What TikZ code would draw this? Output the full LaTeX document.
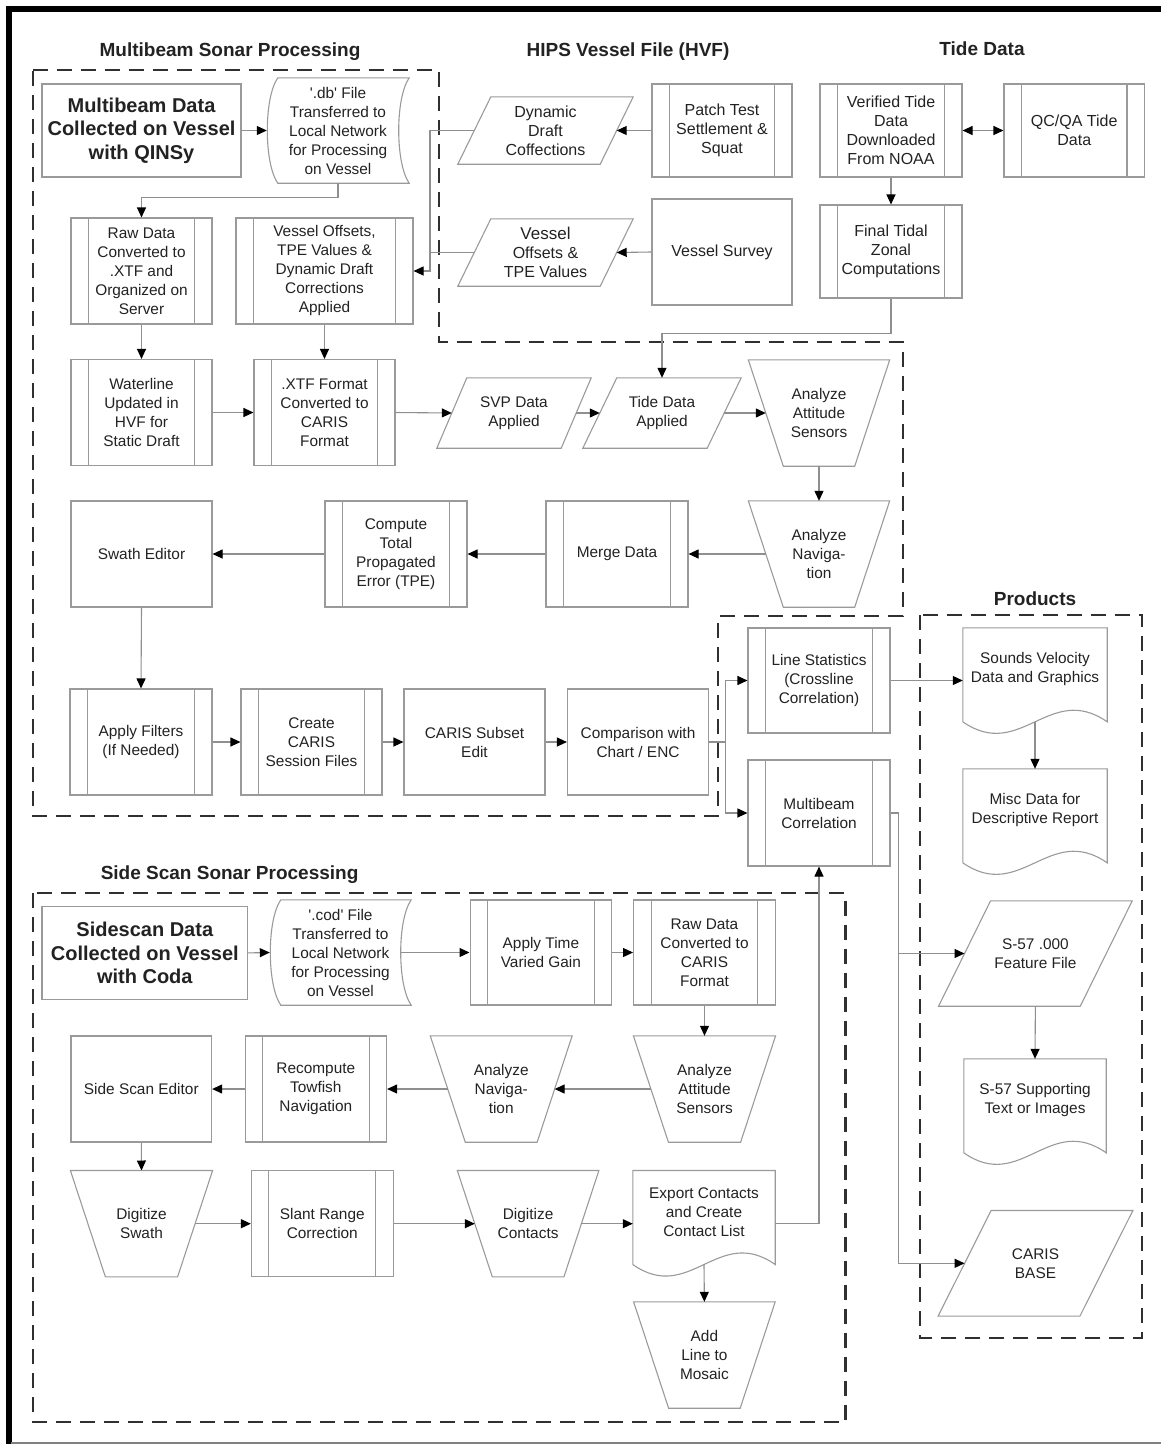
\documentclass[tikz,border=0pt]{standalone}
\usepackage{fontspec}
\setmainfont{Liberation Sans}
\usetikzlibrary{calc,arrows.meta}
\definecolor{boxgray}{HTML}{9A9A9A}
\definecolor{linegray}{HTML}{8F8F8F}
\definecolor{txt}{HTML}{222222}
\definecolor{dashcol}{HTML}{303030}
\newcommand\fsn{\fontsize{15.4}{19}\selectfont}
\newcommand\fsh{\fontsize{16}{19}\selectfont}
\newcommand\fsb{\fontsize{20}{23.5}\selectfont\bfseries}
\newcommand\fst{\fontsize{19}{22}\selectfont\bfseries}
\newcommand\mkpara[2]{%
  \draw[outline] ($(#1.north west)+(#2,0)$) -- (#1.north east) -- ($(#1.south east)-(#2,0)$) -- (#1.south west) -- cycle;
  \coordinate (#1-l) at ($(#1.west)+(#2/2,0)$);
  \coordinate (#1-r) at ($(#1.east)-(#2/2,0)$);}
\newcommand\mktrap[2]{%
  \draw[outline] (#1.north west) -- (#1.north east) -- ($(#1.south east)-(#2,0)$) -- ($(#1.south west)+(#2,0)$) -- cycle;
  \coordinate (#1-l) at ($(#1.west)+(#2/2,0)$);
  \coordinate (#1-r) at ($(#1.east)-(#2/2,0)$);}
\newcommand\mkstored[1]{%
  \draw[outline] ($(#1.north west)+(11,0)$) -- (#1.north east)
    .. controls ($(#1.north east)+(-14,20)$) and ($(#1.south east)+(-14,-20)$) .. (#1.south east)
    -- ($(#1.south west)+(11,0)$)
    .. controls ($(#1.south west)+(-3,-20)$) and ($(#1.north west)+(-3,20)$) .. ($(#1.north west)+(11,0)$) -- cycle;
  \coordinate (#1-r) at ($(#1.east)+(-10.5,0)$);}
\newcommand\mkdoc[1]{%
  \draw[outline] (#1.north west) -- (#1.north east) -- ($(#1.north east)+(0,94)$)
    .. controls ($(#1.north west)!0.6!(#1.north east)+(0,54)$) and ($(#1.north west)!0.4!(#1.north east)+(0,134)$) .. ($(#1.north west)+(0,94)$) -- cycle;}
\tikzset{
  base/.style={inner sep=0pt, align=center, font=\fsn, text=txt},
  sz/.style 2 args={minimum width=#1pt, minimum height=#2pt},
  plain/.style={base, draw=boxgray, line width=1.1pt},
  proc/.style={plain, path picture={\draw[boxgray, line width=1.1pt]
      ([xshift=17.5pt]path picture bounding box.north west) -- ([xshift=17.5pt]path picture bounding box.south west)
      ([xshift=-17.5pt]path picture bounding box.north east) -- ([xshift=-17.5pt]path picture bounding box.south east);}},
  free/.style={base},
  outline/.style={draw=boxgray, line width=1.1pt},
  conn/.style={draw=linegray, line width=1.1pt, -{Triangle[length=10pt,width=9pt,color=black]}},
  plainline/.style={draw=linegray, line width=1.1pt},
  region/.style={draw=dashcol, line width=2.6pt, dash pattern=on 15pt off 9pt},
  title/.style={font=\fst, text=txt, inner sep=0pt},
}
\begin{document}
\begin{tikzpicture}[x=1pt,y=-1pt]
\useasboundingbox (0,0) rectangle (1161,1444);
% frame
\draw[line width=6pt, black] (8.5,1444) -- (8.5,8.5) -- (1161,8.5);
\draw[line width=1.5pt, gray] (11,1442.8) -- (1161,1442.8);
% regions
\draw[region] (33,70) -- (439,70) -- (439,342) -- (903,342) -- (903,616) -- (718,616) -- (718,816) -- (33,816) -- cycle;
\draw[region] (920,615) rectangle (1142,1338);
\draw[region] (33,893) rectangle (845.5,1422);
% titles
\node[title] (t1) at (230,52) {Multibeam Sonar Processing};
\node[title] (t2) at (628,52) {HIPS Vessel File (HVF)};
\node[title] (t3) at (982,49) {Tide Data};
\node[title] (t4) at (1035,599) {Products};
\node[title] (t5) at (229.6,875) {Side Scan Sonar Processing};
% multibeam
\node[plain, sz={199}{93}, font=\fsb] (mbdata) at (141.5,130.5) {Multibeam Data\\Collected on Vessel\\with QINSy};
\node[free, sz={142}{105}] (dbfile) at (338,130.5) {\textquotesingle.db\textquotesingle{} File\\Transferred to\\Local Network\\for Processing\\on Vessel};
\mkstored{dbfile}
\node[proc, sz={141}{106}] (rawxtf) at (141.5,271) {Raw Data\\Converted to\\.XTF and\\Organized on\\Server};
\node[proc, sz={177}{106}] (voff) at (324.5,271) {Vessel Offsets,\\TPE Values \&\\Dynamic Draft\\Corrections\\Applied};
\node[proc, sz={141}{106}] (waterline) at (141.5,412.5) {Waterline\\Updated in\\HVF for\\Static Draft};
\node[proc, sz={141}{106}] (xtf) at (324.5,412.5) {.XTF Format\\Converted to\\CARIS\\Format};
\node[free, sz={154}{70}] (svp) at (514,413) {SVP Data\\Applied};
\mkpara{svp}{30}
\node[free, sz={158}{70}] (tideapp) at (662,413) {Tide Data\\Applied};
\mkpara{tideapp}{34}
\node[free, sz={141}{106}] (attmb) at (819,413) {Analyze\\Attitude\\Sensors};
\mktrap{attmb}{35}
\node[free, sz={141}{106}] (navmb) at (819,554) {Analyze\\Naviga-\\tion};
\mktrap{navmb}{35}
\node[proc, sz={142}{106}] (merge) at (617,554) {Merge Data};
\node[proc, sz={142}{106}] (tpe) at (396,554) {Compute\\Total\\Propagated\\Error (TPE)};
\node[plain, sz={141}{106}] (swath) at (141.5,554) {Swath Editor};
\node[proc, sz={142}{106}] (filters) at (141,742) {Apply Filters\\(If Needed)};
\node[proc, sz={141}{106}] (session) at (311.5,742) {Create\\CARIS\\Session Files};
\node[plain, sz={141}{106}] (subset) at (474.5,742) {CARIS Subset\\Edit};
\node[plain, sz={141}{106}] (compare) at (638,742) {Comparison with\\Chart / ENC};
\node[proc, sz={142}{105}] (linestats) at (819,680.5) {Line Statistics\\(Crossline\\Correlation)};
\node[proc, sz={142}{106}] (mbcorr) at (819,813) {Multibeam\\Correlation};
% HVF
\node[free, sz={175}{67}, font=\fsh] (ddraft) at (545.5,130.5) {Dynamic\\Draft\\Coffections};
\mkpara{ddraft}{33}
\node[proc, sz={140}{93}, font=\fsh] (patch) at (722,130.5) {Patch Test\\Settlement \&\\Squat};
\node[free, sz={175}{67}, font=\fsh] (tpeval) at (545.5,252.5) {{\fontsize{17}{19}\selectfont Vessel}\\Offsets \&\\TPE Values};
\mkpara{tpeval}{33}
\node[plain, sz={140}{106}, font=\fsh] (vsurvey) at (722,252) {Vessel Survey};
% Tide
\node[proc, sz={142}{93}, font=\fsh] (verified) at (891,130.5) {Verified Tide\\Data\\Downloaded\\From NOAA};
\node[proc, sz={140.5}{93}, font=\fsh] (qcqa) at (1074.25,130.5) {QC/QA Tide\\Data};
\node[proc, sz={142}{93}, font=\fsh] (finaltide) at (891,251.5) {Final Tidal\\Zonal\\Computations};
% Products
\node[free, sz={144}{82}] (sounds) at (1035,669) {Sounds Velocity\\Data and Graphics};
\mkdoc{sounds}
\node[free, sz={144}{82}] (misc) at (1035,810) {Misc Data for\\Descriptive Report};
\mkdoc{misc}
\node[free, sz={193.3}{105}] (s57) at (1035.4,953.5) {S-57 .000\\Feature File};
\mkpara{s57}{52}
\node[free, sz={142}{82}] (s57sup) at (1035,1100) {S-57 Supporting\\Text or Images};
\mkdoc{s57sup}
\node[free, sz={194.4}{105.3}] (cbase) at (1035.5,1263.3) {CARIS\\BASE};
\mkpara{cbase}{53}
% Side scan
\node[plain, sz={205.6}{92.3}, font=\fsb] (ssdata) at (144.8,952.9) {Sidescan Data\\Collected on Vessel\\with Coda};
\node[free, sz={141}{105}] (codfile) at (340.5,952.5) {\textquotesingle.cod\textquotesingle{} File\\Transferred to\\Local Network\\for Processing\\on Vessel};
\mkstored{codfile}
\node[proc, sz={141.7}{105}] (tvg) at (540.9,952.5) {Apply Time\\Varied Gain};
\node[proc, sz={141.8}{105}] (rawcaris) at (704.5,952.5) {Raw Data\\Converted to\\CARIS\\Format};
\node[free, sz={141.8}{106}] (attss) at (704.5,1089) {Analyze\\Attitude\\Sensors};
\mktrap{attss}{35}
\node[free, sz={141.5}{106}] (navss) at (501.2,1089) {Analyze\\Naviga-\\tion};
\mktrap{navss}{35}
\node[proc, sz={141.5}{106}] (towfish) at (315.8,1089) {Recompute\\Towfish\\Navigation};
\node[plain, sz={140.6}{106}] (sseditor) at (141.3,1089) {Side Scan Editor};
\node[free, sz={141.8}{106}] (digswath) at (141.5,1223.7) {Digitize\\Swath};
\mktrap{digswath}{35}
\node[proc, sz={141.8}{106}] (slant) at (322.3,1223.7) {Slant Range\\Correction};
\node[free, sz={141.2}{106}] (digcont) at (528.1,1223.7) {Digitize\\Contacts};
\mktrap{digcont}{35}
\node[free, sz={142}{82}] (export) at (704,1211.7) {Export Contacts\\and Create\\Contact List};
\mkdoc{export}
\node[free, sz={141.2}{106}] (addline) at (704.4,1355) {Add\\Line to\\Mosaic};
\mktrap{addline}{35}
% connectors multibeam
\draw[conn] (mbdata.east) -- (dbfile.west);
\draw[conn] (dbfile.south) -- ++(0,14) -| (rawxtf.north);
\draw[conn] (rawxtf.south) -- (waterline.north);
\draw[conn] (voff.south) -- (xtf.north);
\draw[conn] (waterline.east) -- (xtf.west);
\draw[conn] (xtf.east) -- (svp-l);
\draw[conn] (svp-r) -- (tideapp-l);
\draw[conn] (tideapp-r) -- (attmb-l);
\draw[conn] (attmb.south) -- (navmb.north);
\draw[conn] (navmb-l) -- (merge.east);
\draw[conn] (merge.west) -- (tpe.east);
\draw[conn] (tpe.west) -- (swath.east);
\draw[conn] (swath.south) -- (filters.north);
\draw[conn] (filters.east) -- (session.west);
\draw[conn] (session.east) -- (subset.west);
\draw[conn] (subset.east) -- (compare.west);
\coordinate (split) at (725.6,742);
\draw[plainline] (compare.east) -- (split);
\draw[conn] (split) |- (linestats.west);
\draw[conn] (split) |- (mbcorr.west);
\draw[conn] (linestats.east) -- (linestats.east -| sounds.west);
\draw[conn] ($(sounds.north)+(0,94)$) -- (misc.north);
\coordinate (bus) at (898.5,813);
\draw[conn] (mbcorr.east) -- (bus) |- (cbase-l);
\draw[conn] (bus |- s57-l) -- (s57-l);
\draw[conn] (s57.south) -- (s57sup.north);
% connectors HVF and tide
\coordinate (hvbus) at (430,130.5);
\draw[conn] (ddraft-l) -- (hvbus) |- (voff.east);
\draw[plainline] (tpeval-l) -- (tpeval-l -| hvbus);
\draw[conn] (patch.west) -- (ddraft-r);
\draw[conn] (vsurvey.west) -- (tpeval-r);
\draw[plainline, {Triangle[length=10pt,width=9pt,color=black]}-{Triangle[length=10pt,width=9pt,color=black]}] (verified.east) -- (qcqa.west);
\draw[conn] (verified.south) -- (finaltide.north);
\draw[conn] (finaltide.south) -- ++(0,35) -| (tideapp.north);
% connectors side scan
\draw[conn] (ssdata.east) -- (codfile.west);
\draw[conn] (codfile-r) -- (tvg.west);
\draw[conn] (tvg.east) -- (rawcaris.west);
\draw[conn] (rawcaris.south) -- (attss.north);
\draw[conn] (attss-l) -- (navss-r);
\draw[conn] (navss-l) -- (towfish.east);
\draw[conn] (towfish.west) -- (sseditor.east);
\draw[conn] (sseditor.south) -- (digswath.north);
\draw[conn] (digswath-r) -- (slant.west);
\draw[conn] (slant.east) -- (digcont-l);
\draw[conn] (digcont-r) -- (digcont-r -| export.west);
\draw[conn] (digcont-r -| export.east) -| (mbcorr.south);
\draw[conn] ($(export.north)+(0,94)$) -- (addline.north);
\end{tikzpicture}
\end{document}
